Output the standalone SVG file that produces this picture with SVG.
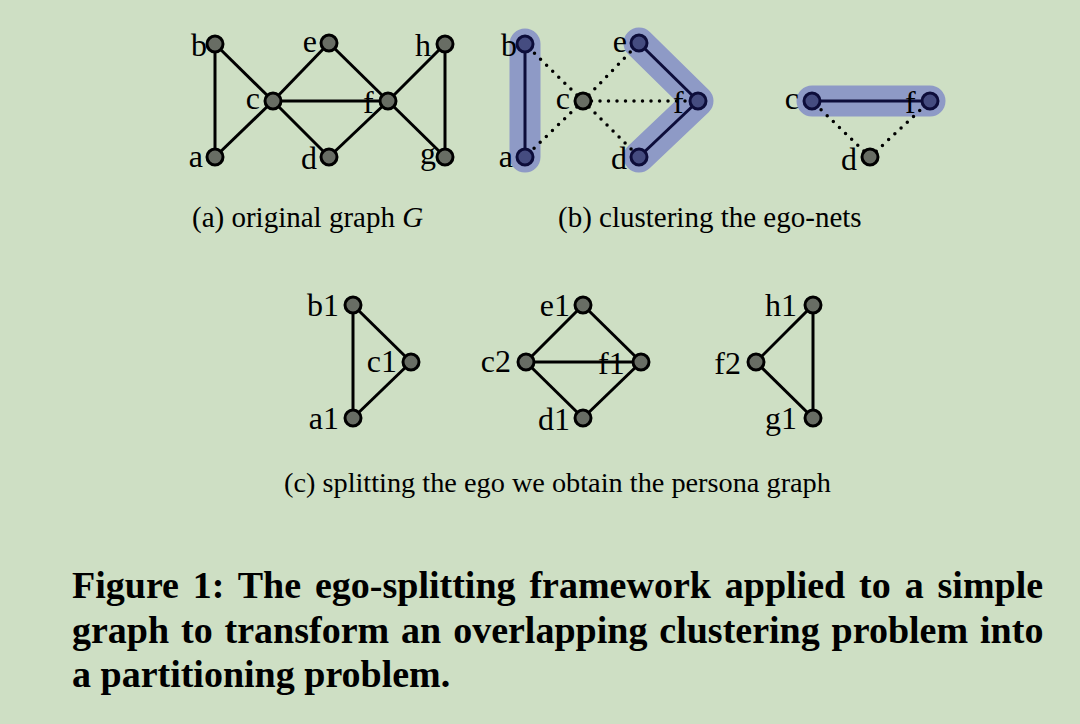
<svg xmlns="http://www.w3.org/2000/svg" width="1080" height="724" viewBox="0 0 1080 724">
<style>
.bg{fill:#cedfc4}
.e{stroke:#000;stroke-width:3;fill:none}
.en{stroke:#0d0d3a;stroke-width:3;fill:none}
.dot{stroke:#000;stroke-width:3.5;stroke-linecap:round;stroke-dasharray:0 8.5;fill:none}
.hl{stroke:#8e9ac6;stroke-width:31;stroke-linecap:round;stroke-linejoin:round;fill:none}
.n{fill:#686d64;stroke:#000;stroke-width:3}
.nb{fill:#454c80;stroke:#0d0d3a;stroke-width:3}
.lb{font-family:"Liberation Serif",serif;font-size:32px;fill:#000;text-anchor:end}
.lf{font-family:"Liberation Serif",serif;font-size:32px;fill:#000}
.cap{font-family:"Liberation Serif",serif;font-size:29px;fill:#000}
.capc{font-family:"Liberation Serif",serif;font-size:28.3px;fill:#000}
.fig{font-family:"Liberation Serif",serif;font-size:38px;font-weight:bold;fill:#000}
</style>
<rect class="bg" x="0" y="0" width="1080" height="724"/>

<!-- (a) -->
<g id="edges-a">
<line class="e" x1="215" y1="44" x2="215" y2="157"/>
<line class="e" x1="215" y1="44" x2="273" y2="101"/>
<line class="e" x1="215" y1="157" x2="273" y2="101"/>
<line class="e" x1="273" y1="101" x2="329" y2="43"/>
<line class="e" x1="273" y1="101" x2="329" y2="157"/>
<line class="e" x1="273" y1="101" x2="388" y2="101"/>
<line class="e" x1="329" y1="43" x2="388" y2="101"/>
<line class="e" x1="329" y1="157" x2="388" y2="101"/>
<line class="e" x1="388" y1="101" x2="445" y2="44"/>
<line class="e" x1="388" y1="101" x2="445" y2="157"/>
<line class="e" x1="445" y1="44" x2="445" y2="157"/>
</g>
<g id="a-b"><circle class="n" cx="215" cy="44" r="8"/><text class="lb" x="207" y="56">b</text></g>
<g id="a-a"><circle class="n" cx="215" cy="157" r="8"/><text class="lb" x="203" y="167">a</text></g>
<g id="a-c"><circle class="n" cx="273" cy="101" r="8"/><text class="lb" x="260" y="109">c</text></g>
<g id="a-e"><circle class="n" cx="329" cy="43" r="8"/><text class="lb" x="317" y="52">e</text></g>
<g id="a-d"><circle class="n" cx="329" cy="157" r="8"/><text class="lb" x="317" y="169">d</text></g>
<g id="a-f"><text class="lf" x="363" y="113">f</text><circle class="n" cx="388" cy="101" r="8"/></g>
<g id="a-h"><circle class="n" cx="445" cy="44" r="8"/><text class="lb" x="431" y="56">h</text></g>
<g id="a-g"><circle class="n" cx="445" cy="157" r="8"/><text class="lb" x="436" y="164">g</text></g>
<text class="cap" x="192" y="227">(a)  original graph <tspan font-style="italic">G</tspan></text>

<!-- (b) -->
<g id="clusters-b">
<line class="hl" x1="525" y1="44" x2="525" y2="157"/>
<polyline class="hl" points="639,43 698,101 639,157"/>
<line class="hl" x1="812" y1="101" x2="930" y2="101"/>
</g>
<g id="edges-b">
<line class="en" x1="525" y1="44" x2="525" y2="157"/>
<line class="en" x1="639" y1="43" x2="698" y2="101"/>
<line class="en" x1="639" y1="157" x2="698" y2="101"/>
<line class="en" x1="812" y1="101" x2="930" y2="101"/>
<line class="dot" x1="583" y1="101" x2="525" y2="44"/>
<line class="dot" x1="583" y1="101" x2="525" y2="157"/>
<line class="dot" x1="583" y1="101" x2="639" y2="43"/>
<line class="dot" x1="583" y1="101" x2="639" y2="157"/>
<line class="dot" x1="583" y1="101" x2="698" y2="101"/>
<line class="dot" x1="870" y1="157" x2="812" y2="101"/>
<line class="dot" x1="870" y1="157" x2="930" y2="101"/>
</g>
<g id="b-b"><circle class="nb" cx="525" cy="44" r="8"/><text class="lb" x="517" y="56">b</text></g>
<g id="b-a"><circle class="nb" cx="525" cy="157" r="8"/><text class="lb" x="513" y="167">a</text></g>
<g id="b-c"><circle class="n" cx="583" cy="101" r="8"/><text class="lb" x="570" y="109">c</text></g>
<g id="b-e"><circle class="nb" cx="639" cy="43" r="8"/><text class="lb" x="627" y="52">e</text></g>
<g id="b-d"><circle class="nb" cx="639" cy="157" r="8"/><text class="lb" x="627" y="169">d</text></g>
<g id="b-f"><text class="lf" x="673" y="113">f</text><circle class="nb" cx="698" cy="101" r="8"/></g>
<g id="b2-c"><circle class="nb" cx="812" cy="101" r="8"/><text class="lb" x="799" y="109">c</text></g>
<g id="b2-f"><text class="lf" x="905" y="113">f</text><circle class="nb" cx="930" cy="101" r="8"/></g>
<g id="b2-d"><circle class="n" cx="870" cy="157" r="8"/><text class="lb" x="857" y="170">d</text></g>
<text class="cap" x="558" y="227">(b)  clustering the ego-nets</text>

<!-- (c) -->
<g id="edges-c">
<line class="e" x1="353" y1="305" x2="353" y2="418"/>
<line class="e" x1="353" y1="305" x2="411" y2="362"/>
<line class="e" x1="353" y1="418" x2="411" y2="362"/>
<line class="e" x1="526" y1="362" x2="583" y2="305"/>
<line class="e" x1="526" y1="362" x2="583" y2="418"/>
<line class="e" x1="526" y1="362" x2="641" y2="362"/>
<line class="e" x1="583" y1="305" x2="641" y2="362"/>
<line class="e" x1="583" y1="418" x2="641" y2="362"/>
<line class="e" x1="756" y1="362" x2="813" y2="305"/>
<line class="e" x1="756" y1="362" x2="813" y2="418"/>
<line class="e" x1="813" y1="305" x2="813" y2="418"/>
</g>
<g id="c-b1"><circle class="n" cx="353" cy="305" r="8"/><text class="lb" x="339" y="316">b1</text></g>
<g id="c-a1"><circle class="n" cx="353" cy="418" r="8"/><text class="lb" x="339" y="429">a1</text></g>
<g id="c-c1"><circle class="n" cx="411" cy="362" r="8"/><text class="lb" x="397" y="372">c1</text></g>
<g id="c-c2"><circle class="n" cx="526" cy="362" r="8"/><text class="lb" x="511" y="372">c2</text></g>
<g id="c-e1"><circle class="n" cx="583" cy="305" r="8"/><text class="lb" x="570" y="316">e1</text></g>
<g id="c-d1"><circle class="n" cx="583" cy="418" r="8"/><text class="lb" x="570" y="430">d1</text></g>
<g id="c-f1"><text class="lf" x="598" y="374">f1</text><circle class="n" cx="641" cy="362" r="8"/></g>
<g id="c-f2"><circle class="n" cx="756" cy="362" r="8"/><text class="lb" x="741" y="374">f2</text></g>
<g id="c-h1"><circle class="n" cx="813" cy="305" r="8"/><text class="lb" x="797" y="316">h1</text></g>
<g id="c-g1"><circle class="n" cx="813" cy="418" r="8"/><text class="lb" x="797" y="429">g1</text></g>
<text class="capc" x="284" y="492">(c)  splitting the ego we obtain the persona graph</text>

<text class="fig" x="72" y="598" word-spacing="4.4">Figure 1:  The ego-splitting framework applied to a simple</text>
<text class="fig" x="72" y="643" word-spacing="2.4">graph to transform an overlapping clustering problem into</text>
<text class="fig" x="72" y="687">a partitioning problem.</text>
</svg>
